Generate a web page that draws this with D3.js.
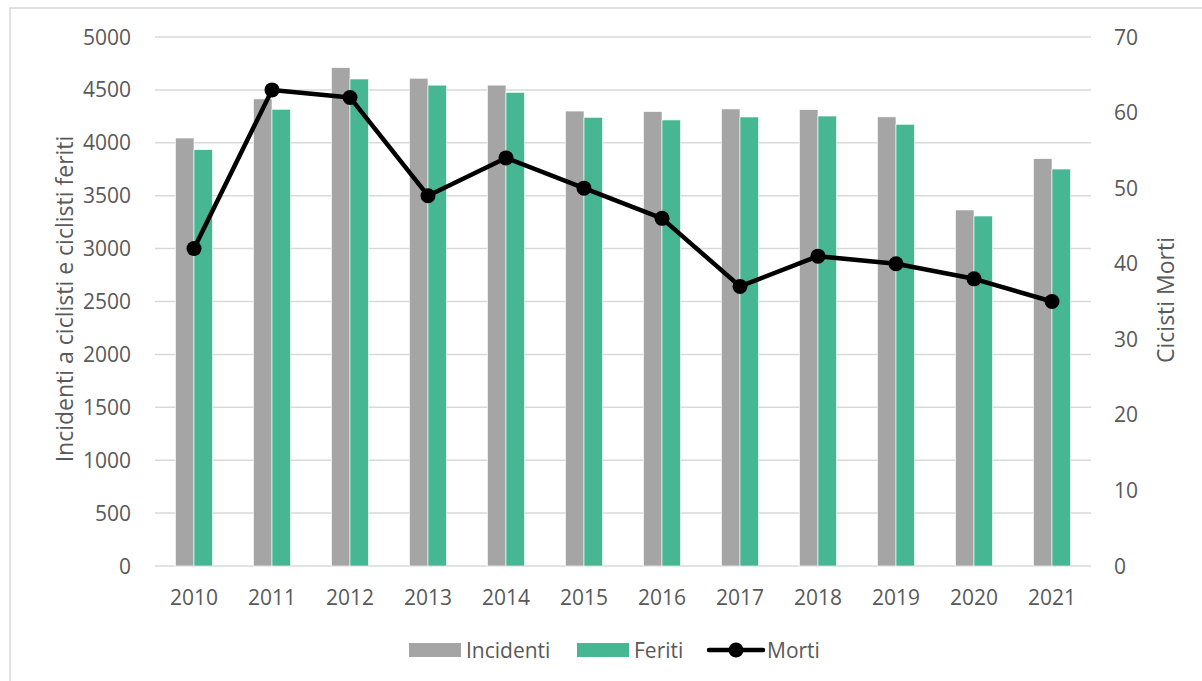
<!DOCTYPE html>
<html>
<head>
<meta charset="utf-8">
<script src="https://cdn.jsdelivr.net/npm/d3@7"></script>
<style>
  body { margin: 0; background: #fff; }
  text { font-family: "Open Sans", sans-serif; fill: #595959; }
</style>
</head>
<body>
<svg id="chart" width="1202" height="681"></svg>
<script>
// data
const years = ["2010", "2011", "2012", "2013", "2014", "2015", "2016", "2017", "2018", "2019", "2020", "2021"]
const incidenti = [4045, 4415, 4710, 4610, 4545, 4300, 4295, 4320, 4313, 4245, 3365, 3850]
const feriti = [3935, 4317, 4603, 4545, 4477, 4241, 4216, 4244, 4253, 4175, 3308, 3752]
const morti = [42, 63, 62, 49, 54, 50, 46, 37, 41, 40, 38, 35]
const leftTicks = d3.range(0, 5001, 500)
const rightTicks = d3.range(0, 71, 10)

const grey = "#a5a5a5"
const green = "#47b692"

const svg = d3.select("#chart")

// outer frame of the chart area (only top and left visible)
svg.append("rect")
    .attr("x", 10).attr("y", 8)
    .attr("width", 1202).attr("height", 700)
    .attr("fill", "none")
    .attr("stroke", "#d9d9d9")
    .attr("stroke-width", 1.5)

const plotLeft = 155, plotRight = 1091, plotTop = 37, plotBottom = 566

const x = d3.scaleBand().domain(years).range([plotLeft, plotRight])
const yL = d3.scaleLinear().domain([0, 5000]).range([plotBottom, plotTop])
const yR = d3.scaleLinear().domain([0, 70]).range([plotBottom, plotTop])

// gridlines
svg.append("g")
    .selectAll("line")
    .data(leftTicks)
    .join("line")
    .attr("x1", plotLeft).attr("x2", plotRight)
    .attr("y1", d => yL(d)).attr("y2", d => yL(d))
    .attr("stroke", "#d9d9d9")
    .attr("stroke-width", 1.5)

// left axis labels
svg.append("g")
    .selectAll("text")
    .data(leftTicks)
    .join("text")
    .attr("x", 131)
    .attr("y", d => yL(d))
    .attr("dy", "0.36em")
    .attr("text-anchor", "end")
    .attr("font-size", 21)
    .text(d => d)

// right axis labels
svg.append("g")
    .selectAll("text")
    .data(rightTicks)
    .join("text")
    .attr("x", 1114)
    .attr("y", d => yR(d))
    .attr("dy", "0.36em")
    .attr("font-size", 21)
    .text(d => d)

// x labels
svg.append("g")
    .selectAll("text")
    .data(years)
    .join("text")
    .attr("x", d => x(d) + x.bandwidth() / 2)
    .attr("y", 597)
    .attr("dy", "0.36em")
    .attr("text-anchor", "middle")
    .attr("font-size", 21)
    .text(d => d)

// bars
const barW = 18.5
const bars = svg.append("g")
bars.selectAll("rect.inc")
    .data(years)
    .join("rect")
    .attr("class", "inc")
    .attr("x", d => x(d) + x.bandwidth() / 2 - barW)
    .attr("y", (d, i) => yL(incidenti[i]))
    .attr("width", barW)
    .attr("height", (d, i) => plotBottom - yL(incidenti[i]))
    .attr("fill", grey)
    .attr("stroke", "#fff")
    .attr("stroke-width", 0.6)
bars.selectAll("rect.fer")
    .data(years)
    .join("rect")
    .attr("class", "fer")
    .attr("x", d => x(d) + x.bandwidth() / 2)
    .attr("y", (d, i) => yL(feriti[i]))
    .attr("width", barW)
    .attr("height", (d, i) => plotBottom - yL(feriti[i]))
    .attr("fill", green)
    .attr("stroke", "#fff")
    .attr("stroke-width", 0.6)

// morti line
const line = d3.line()
    .x((d, i) => x(years[i]) + x.bandwidth() / 2)
    .y(d => yR(d))
svg.append("path")
    .datum(morti)
    .attr("d", line)
    .attr("fill", "none")
    .attr("stroke", "#000")
    .attr("stroke-width", 4.5)
    .attr("stroke-linejoin", "round")
svg.append("g")
    .selectAll("circle")
    .data(morti)
    .join("circle")
    .attr("cx", (d, i) => x(years[i]) + x.bandwidth() / 2)
    .attr("cy", d => yR(d))
    .attr("r", 7.5)
    .attr("fill", "#000")

// axis titles
svg.append("text")
    .attr("transform", "translate(73,299) rotate(-90)")
    .attr("text-anchor", "middle")
    .attr("font-size", 23)
    .text("Incidenti a ciclisti e ciclisti feriti")
svg.append("text")
    .attr("transform", "translate(1174,300) rotate(-90)")
    .attr("text-anchor", "middle")
    .attr("font-size", 23)
    .text("Cicisti Morti")

// legend
const lg = svg.append("g")
lg.append("rect").attr("x", 409).attr("y", 643).attr("width", 52).attr("height", 14).attr("fill", grey)
lg.append("text").attr("x", 466).attr("y", 650).attr("dy", "0.36em").attr("font-size", 21).text("Incidenti")
lg.append("rect").attr("x", 577).attr("y", 643).attr("width", 52).attr("height", 14).attr("fill", green)
lg.append("text").attr("x", 634).attr("y", 650).attr("dy", "0.36em").attr("font-size", 21).text("Feriti")
lg.append("line").attr("x1", 709).attr("x2", 763).attr("y1", 650).attr("y2", 650)
    .attr("stroke", "#000").attr("stroke-width", 4.5).attr("stroke-linecap", "round")
lg.append("circle").attr("cx", 736).attr("cy", 650).attr("r", 7.5).attr("fill", "#000")
lg.append("text").attr("x", 767).attr("y", 650).attr("dy", "0.36em").attr("font-size", 21).text("Morti")
</script>
</body>
</html>
